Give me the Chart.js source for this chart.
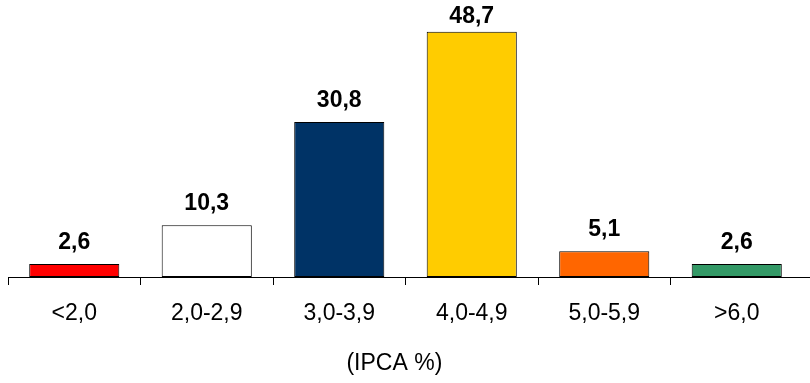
<!DOCTYPE html>
<html>
<head>
<meta charset="utf-8">
<script src="https://cdn.jsdelivr.net/npm/chart.js@4/dist/chart.umd.min.js"></script>
<style>
  html, body { margin: 0; padding: 0; background: #ffffff; }
  #wrap { width: 810px; height: 383px; position: relative; }
</style>
</head>
<body>
<div id="wrap"><canvas id="c"></canvas></div>
<script>
// Distribution of inflation expectations by IPCA range
const categories = ['<2,0', '2,0-2,9', '3,0-3,9', '4,0-4,9', '5,0-5,9', '>6,0'];
const shares = [2.6, 10.3, 30.8, 48.7, 5.1, 2.6];
const barColors = ['#ff0000', '#ffffff', '#003366', '#ffcc00', '#ff6600', '#339966'];
const axisTitle = '(IPCA %)';

const FONT = "'Liberation Sans', Arial, Helvetica, sans-serif";

const fmt = v => v.toFixed(1).replace('.', ',');

// value labels above each bar
const valueLabels = {
  id: 'valueLabels',
  afterDatasetsDraw(chart) {
    const ctx = chart.ctx;
    const meta = chart.getDatasetMeta(0);
    ctx.save();
    ctx.font = 'bold 23px ' + FONT;
    ctx.fillStyle = '#000000';
    ctx.textAlign = 'center';
    ctx.textBaseline = 'alphabetic';
    meta.data.forEach((bar, i) => {
      const y = Math.max(bar.y - 15, 23);
      ctx.fillText(fmt(shares[i]), bar.x, y);
    });
    ctx.restore();
  }
};

// baseline continues to the right edge; axis caption sits under the middle categories
const axisExtras = {
  id: 'axisExtras',
  afterDraw(chart) {
    const ctx = chart.ctx;
    const area = chart.chartArea;
    const y = Math.round(area.bottom) + 0.5;
    ctx.save();
    ctx.strokeStyle = '#000000';
    ctx.lineWidth = 1;
    ctx.beginPath();
    ctx.moveTo(area.right, y);
    ctx.lineTo(chart.width, y);
    ctx.stroke();

    ctx.font = '23px ' + FONT;
    ctx.fillStyle = '#000000';
    ctx.textAlign = 'center';
    ctx.textBaseline = 'middle';
    ctx.fillText(axisTitle, area.left + (area.right - area.left) * 0.486, area.bottom + 87);
    ctx.restore();
  }
};

new Chart(document.getElementById('c'), {
  type: 'bar',
  data: {
    labels: categories,
    datasets: [{
      data: shares,
      backgroundColor: barColors,
      borderColor: '#000000',
      borderWidth: 1,
      borderSkipped: false,
      categoryPercentage: 1.0,
      barPercentage: 0.68
    }]
  },
  options: {
    responsive: true,
    maintainAspectRatio: false,
    animation: false,
    devicePixelRatio: 1,
    layout: { padding: { left: 8, right: 7, top: 0, bottom: 0 } },
    plugins: {
      legend: { display: false },
      tooltip: { enabled: false }
    },
    scales: {
      y: {
        display: false,
        min: 0,
        max: 55
      },
      x: {
        afterFit(scale) { scale.height = 106; },
        border: { display: true, color: '#000000', width: 1 },
        grid: {
          offset: true,
          drawOnChartArea: false,
          drawTicks: true,
          tickLength: 8,
          color: ctx => ctx.type === 'tick' ? '#000000' : 'rgba(0,0,0,0)',
          tickColor: ctx => ctx.type === 'tick' ? '#000000' : 'rgba(0,0,0,0)'
        },
        ticks: {
          color: '#000000',
          font: { family: FONT, size: 23 },
          padding: 15,
          maxRotation: 0
        }
      }
    }
  },
  plugins: [valueLabels, axisExtras]
});
</script>
</body>
</html>
